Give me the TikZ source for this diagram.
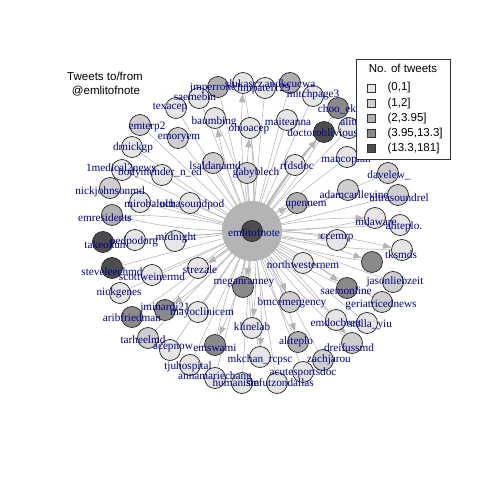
\documentclass[tikz,border=0pt]{standalone}
\usepackage{fontspec}
\setmainfont{Liberation Serif}
\newfontfamily\legendfont{Liberation Sans}
\usetikzlibrary{arrows.meta, positioning, backgrounds}

\definecolor{tw1}{HTML}{E6E6E6}
\definecolor{tw2}{HTML}{CECECE}
\definecolor{tw3}{HTML}{B0B0B0}
\definecolor{tw4}{HTML}{8A8A8A}
\definecolor{tw5}{HTML}{4D4D4D}
\definecolor{labelblue}{HTML}{00008B}
\definecolor{edgegray}{HTML}{B4B4B4}

\begin{document}
\begin{tikzpicture}[
    x=0.025cm, y=-0.025cm,
    vtx/.style={circle, draw=black!85, line width=0.5pt, minimum size=0.525cm, inner sep=0pt},
    c1/.style={vtx, fill=tw1},
    c2/.style={vtx, fill=tw2},
    c3/.style={vtx, fill=tw3},
    c4/.style={vtx, fill=tw4},
    c5/.style={vtx, fill=tw5},
    lab/.style={text=labelblue, inner sep=0pt, font=\fontsize{8}{9}\selectfont},
    edge/.style={draw=edgegray, line width=0.4pt, -{Triangle[length=6pt, width=4.5pt, fill=edgegray]}},
    sans/.style={inner sep=0pt, font=\legendfont\fontsize{8.2}{9.5}\selectfont},
    keybox/.style={draw=black!80, line width=0.4pt, minimum size=0.2cm, inner sep=0pt}
]
    \useasboundingbox (0,0) rectangle (480,480);

    % Centre
    \node[c5] (emlitofnote) at (252,231) {};

    % Top arc
    \node[c3] (jmperrone) at (218,87) {};
    \node[c1] (saemebm) at (199,98) {};
    \node[c1] (slukascz) at (243,83) {};
    \node[c3] (andkcucwa) at (290,83) {};
    \node[c1] (hmpatel129) at (265,88) {};
    \node[c1] (mitchpage3) at (313,96) {};
    \node[c4] (chooek) at (338,108) {};
    \node[c1] (alittle) at (349,128) {};
    \node[c1] (texacep) at (176,108) {};
    \node[c2] (emterp2) at (140,125) {};
    \node[c2] (emoryem) at (178,138) {};
    \node[c1] (baumbing) at (215,118) {};
    \node[c1] (ohioacep) at (250,128) {};
    \node[c1] (maiteanna) at (287,120) {};
    \node[c5] (doctoroblivious) at (324,132) {};
    \node[c1] (mancoplan) at (347,157) {};

    % Inner ring, upper half
    \node[c1] (drnickgp) at (132,147) {};
    \node[c1] (medical) at (122,170) {};
    \node[c1] (bodymender) at (162,175) {};
    \node[c2] (lsaldanamd) at (213,163) {};
    \node[c2] (gabyblech) at (247,173) {};
    \node[c1] (rfdsdoc) at (295,165) {};
    \node[c2] (adamcarllevine) at (348,190) {};
    \node[c2] (davelew) at (388,173) {};
    \node[c2] (ultrasoundrel) at (398,195) {};
    \node[c2] (nickjohnsonmd) at (110,188) {};
    \node[c1] (mirobaloch) at (140,202) {};
    \node[c1] (ultrasoundpod) at (190,203) {};
    \node[c3] (upennem) at (297,203) {};
    \node[c1] (mdaware) at (375,218) {};
    \node[c1] (alteplodot) at (400,225) {};

    % Left and right sides
    \node[c3] (emresidents) at (112,215) {};
    \node[c5] (takeokun) at (103,242) {};
    \node[c1] (pedpodorg) at (135,240) {};
    \node[c1] (midnight) at (175,241) {};
    \node[c1] (ccemrp) at (337,240) {};
    \node[c1] (tksmds) at (402,250) {};
    \node[c4] (anon) at (372,262) {};
    \node[c5] (steveleechmd) at (112,268) {};
    \node[c1] (scottweinermd) at (152,275) {};
    \node[c1] (strezale) at (198,268) {};
    \node[c1] (northwesternem) at (303,263) {};
    \node[c2] (jasonliebzeit) at (393,282) {};

    % Lower half
    \node[c1] (nickgenes) at (120,293) {};
    \node[c4] (meganranney) at (243,287) {};
    \node[c4] (saemonline) at (347,288) {};
    \node[c2] (geriatricednews) at (382,302) {};
    \node[c2] (bmcemergency) at (290,302) {};
    \node[c4] (jminardi21) at (165,310) {};
    \node[c4] (aribfriedman) at (132,317) {};
    \node[c1] (mayoclinicem) at (198,312) {};
    \node[c1] (emdocbrett) at (336,320) {};
    \node[c1] (stellayiu) at (367,323) {};
    \node[c1] (klinelab) at (252,328) {};
    \node[c2] (tarheelmd) at (148,338) {};
    \node[c3] (aliteplo) at (298,342) {};
    \node[c2] (dreifussmd) at (352,343) {};
    \node[c4] (emswami) at (215,345) {};
    \node[c1] (acepnow) at (170,350) {};
    \node[c1] (mkchan) at (260,357) {};
    \node[c2] (zachjarou) at (323,360) {};
    \node[c1] (tjuhospital) at (190,365) {};
    \node[c1] (acutesportsdoc) at (303,372) {};
    \node[c1] (annamariechang) at (215,378) {};
    \node[c1] (humanist) at (242,383) {};
    \node[c1] (stefutz) at (277,383) {};

    % Edges
    \begin{scope}[on background layer]
        \fill[edgegray] (emlitofnote) circle (30);
        \draw[edge] (jmperrone) -- (emlitofnote);
        \draw[edge] (saemebm) -- (emlitofnote);
        \draw[edge] (slukascz) to[bend left=6] (emlitofnote);
        \draw[edge] (emlitofnote) to[bend left=6] (slukascz);
        \draw[edge] (andkcucwa) -- (emlitofnote);
        \draw[edge] (hmpatel129) -- (emlitofnote);
        \draw[edge] (mitchpage3) -- (emlitofnote);
        \draw[edge] (chooek) -- (emlitofnote);
        \draw[edge] (alittle) -- (emlitofnote);
        \draw[edge] (texacep) -- (emlitofnote);
        \draw[edge] (emterp2) -- (emlitofnote);
        \draw[edge] (emoryem) -- (emlitofnote);
        \draw[edge] (baumbing) to[bend left=6] (emlitofnote);
        \draw[edge] (emlitofnote) to[bend left=6] (baumbing);
        \draw[edge] (ohioacep) to[bend left=6] (emlitofnote);
        \draw[edge] (emlitofnote) to[bend left=6] (ohioacep);
        \draw[edge] (maiteanna) -- (emlitofnote);
        \draw[edge] (doctoroblivious) to[bend left=6] (emlitofnote);
        \draw[edge, line width=1.2pt] (emlitofnote) to[bend left=6] (doctoroblivious);
        \draw[edge] (mancoplan) -- (emlitofnote);
        \draw[edge] (drnickgp) -- (emlitofnote);
        \draw[edge] (medical) -- (emlitofnote);
        \draw[edge] (bodymender) -- (emlitofnote);
        \draw[edge] (lsaldanamd) -- (emlitofnote);
        \draw[edge] (gabyblech) -- (emlitofnote);
        \draw[edge] (rfdsdoc) -- (emlitofnote);
        \draw[edge] (adamcarllevine) -- (emlitofnote);
        \draw[edge] (davelew) -- (emlitofnote);
        \draw[edge] (ultrasoundrel) -- (emlitofnote);
        \draw[edge] (nickjohnsonmd) -- (emlitofnote);
        \draw[edge] (mirobaloch) -- (emlitofnote);
        \draw[edge] (ultrasoundpod) -- (emlitofnote);
        \draw[edge] (upennem) to[bend left=6] (emlitofnote);
        \draw[edge] (emlitofnote) to[bend left=6] (upennem);
        \draw[edge] (mdaware) to[bend left=6] (emlitofnote);
        \draw[edge] (emlitofnote) to[bend left=6] (mdaware);
        \draw[edge] (alteplodot) -- (emlitofnote);
        \draw[edge] (emresidents) to[bend left=6] (emlitofnote);
        \draw[edge] (emlitofnote) to[bend left=6] (emresidents);
        \draw[edge] (takeokun) -- (emlitofnote);
        \draw[edge] (pedpodorg) -- (emlitofnote);
        \draw[edge] (midnight) -- (emlitofnote);
        \draw[edge] (ccemrp) to[bend left=6] (emlitofnote);
        \draw[edge] (emlitofnote) to[bend left=6] (ccemrp);
        \draw[edge] (tksmds) to[bend left=6] (emlitofnote);
        \draw[edge] (emlitofnote) to[bend left=6] (tksmds);
        \draw[edge] (anon) to[bend left=6] (emlitofnote);
        \draw[edge] (emlitofnote) to[bend left=6] (anon);
        \draw[edge] (steveleechmd) -- (emlitofnote);
        \draw[edge] (scottweinermd) -- (emlitofnote);
        \draw[edge] (strezale) to[bend left=6] (emlitofnote);
        \draw[edge] (emlitofnote) to[bend left=6] (strezale);
        \draw[edge] (northwesternem) -- (emlitofnote);
        \draw[edge] (jasonliebzeit) -- (emlitofnote);
        \draw[edge] (nickgenes) -- (emlitofnote);
        \draw[edge] (meganranney) to[bend left=6] (emlitofnote);
        \draw[edge] (emlitofnote) to[bend left=6] (meganranney);
        \draw[edge] (saemonline) to[bend left=6] (emlitofnote);
        \draw[edge] (emlitofnote) to[bend left=6] (saemonline);
        \draw[edge] (geriatricednews) -- (emlitofnote);
        \draw[edge] (bmcemergency) to[bend left=6] (emlitofnote);
        \draw[edge] (emlitofnote) to[bend left=6] (bmcemergency);
        \draw[edge] (jminardi21) to[bend left=6] (emlitofnote);
        \draw[edge] (emlitofnote) to[bend left=6] (jminardi21);
        \draw[edge] (aribfriedman) -- (emlitofnote);
        \draw[edge] (mayoclinicem) -- (emlitofnote);
        \draw[edge] (emdocbrett) -- (emlitofnote);
        \draw[edge] (stellayiu) -- (emlitofnote);
        \draw[edge] (klinelab) to[bend left=6] (emlitofnote);
        \draw[edge] (emlitofnote) to[bend left=6] (klinelab);
        \draw[edge] (tarheelmd) -- (emlitofnote);
        \draw[edge] (aliteplo) to[bend left=6] (emlitofnote);
        \draw[edge] (emlitofnote) to[bend left=6] (aliteplo);
        \draw[edge] (dreifussmd) to[bend left=6] (emlitofnote);
        \draw[edge] (emlitofnote) to[bend left=6] (dreifussmd);
        \draw[edge] (emswami) to[bend left=6] (emlitofnote);
        \draw[edge] (emlitofnote) to[bend left=6] (emswami);
        \draw[edge] (acepnow) -- (emlitofnote);
        \draw[edge] (mkchan) to[bend left=6] (emlitofnote);
        \draw[edge] (emlitofnote) to[bend left=6] (mkchan);
        \draw[edge] (zachjarou) -- (emlitofnote);
        \draw[edge] (tjuhospital) -- (emlitofnote);
        \draw[edge] (acutesportsdoc) -- (emlitofnote);
        \draw[edge] (annamariechang) -- (emlitofnote);
        \draw[edge] (humanist) -- (emlitofnote);
        \draw[edge] (stefutz) -- (emlitofnote);
    \end{scope}

    % Labels
    \node[lab] (emlitofnote-l) at (254,233) {emlitofnote};
    \node[lab] (jmperrone-l) at (213,88) {jmperrone};
    \node[lab] (saemebm-l) at (195,97) {saemebm};
    \node[lab] (slukascz-l) at (244,84) {slukascz};
    \node[lab] (andkcucwa-l) at (290,84) {andkcucwa};
    \node[lab] (hmpatel129-l) at (264,89) {hmpatel129};
    \node[lab] (mitchpage3-l) at (313,95) {mitchpage3};
    \node[lab] (chooek-l) at (337,109) {choo\_ek};
    \node[lab, anchor=west] (alittle-l) at (340,122) {alittle};
    \node[lab] (texacep-l) at (170,108) {texacep};
    \node[lab] (emterp2-l) at (147,127) {emterp2};
    \node[lab] (emoryem-l) at (179,138) {emoryem};
    \node[lab] (baumbing-l) at (214,122) {baumbing};
    \node[lab] (ohioacep-l) at (249,129) {ohioacep};
    \node[lab] (maiteanna-l) at (288,122) {maiteanna};
    \node[lab, anchor=west] (doctoroblivious-l) at (287,133) {doctoroblivious};
    \node[lab] (mancoplan-l) at (346,160) {mancoplan};
    \node[lab] (drnickgp-l) at (133,148) {drnickgp};
    \node[lab] (medical-l) at (121,168) {1medical2news};
    \node[lab] (bodymender-l) at (160,173) {bodymender\_n\_ed};
    \node[lab] (lsaldanamd-l) at (215,166) {lsaldanamd};
    \node[lab] (gabyblech-l) at (256,173) {gabyblech};
    \node[lab] (rfdsdoc-l) at (297,166) {rfdsdoc};
    \node[lab] (adamcarllevine-l) at (354,195) {adamcarllevine};
    \node[lab] (davelew-l) at (389,175) {davelew\_};
    \node[lab] (ultrasoundrel-l) at (399,198) {ultrasoundrel};
    \node[lab] (nickjohnsonmd-l) at (110,192) {nickjohnsonmd};
    \node[lab] (mirobaloch-l) at (150,204) {mirobaloch};
    \node[lab] (ultrasoundpod-l) at (192,205) {ultrasoundpod};
    \node[lab] (upennem-l) at (306,205) {upennem};
    \node[lab] (mdaware-l) at (376,222) {mdaware};
    \node[lab] (alteplodot-l) at (404,227) {aliteplo.};
    \node[lab] (emresidents-l) at (105,218) {emresidents};
    \node[lab] (takeokun-l) at (105,245) {takeokun};
    \node[lab] (pedpodorg-l) at (134,242) {pedpodorg};
    \node[lab] (midnight-l) at (176,238) {midnight};
    \node[lab] (ccemrp-l) at (337,238) {ccemrp};
    \node[lab] (tksmds-l) at (401,255) {tksmds};
    \node[lab] (steveleechmd-l) at (112,272) {steveleechmd};
    \node[lab] (scottweinermd-l) at (152,277) {scottweinermd};
    \node[lab] (strezale-l) at (200,270) {strezale};
    \node[lab] (northwesternem-l) at (303,265) {northwesternem};
    \node[lab] (jasonliebzeit-l) at (395,282) {jasonliebzeit};
    \node[lab] (nickgenes-l) at (119,293) {nickgenes};
    \node[lab] (meganranney-l) at (244,283) {meganranney};
    \node[lab] (saemonline-l) at (346,291) {saemonline};
    \node[lab] (geriatricednews-l) at (381,305) {geriatricednews};
    \node[lab] (bmcemergency-l) at (292,303) {bmcemergency};
    \node[lab] (jminardi21-l) at (165,308) {jminardi21};
    \node[lab] (aribfriedman-l) at (132,318) {aribfriedman};
    \node[lab] (mayoclinicem-l) at (202,313) {mayoclinicem};
    \node[lab] (emdocbrett-l) at (336,323) {emdocbrett};
    \node[lab] (stellayiu-l) at (370,325) {stella\_yiu};
    \node[lab] (klinelab-l) at (252,327) {klinelab};
    \node[lab] (tarheelmd-l) at (143,340) {tarheelmd};
    \node[lab] (aliteplo-l) at (296,342) {aliteplo};
    \node[lab] (dreifussmd-l) at (349,348) {dreifussmd};
    \node[lab] (emswami-l) at (215,348) {emswami};
    \node[lab] (acepnow-l) at (173,348) {acepnow};
    \node[lab] (mkchan-l) at (260,360) {mkchan\_rcpsc};
    \node[lab] (zachjarou-l) at (329,360) {zachjarou};
    \node[lab] (tjuhospital-l) at (188,367) {tjuhospital};
    \node[lab] (acutesportsdoc-l) at (303,373) {acutesportsdoc};
    \node[lab] (annamariechang-l) at (215,377) {annamariechang};
    \node[lab] (humanist-l) at (236,383) {humanism};
    \node[lab] (stefutz-l) at (280,383) {stefutzondallas};

    % Title
    \node[sans] (title1) at (105,76) {Tweets to/from};
    \node[sans] (title2) at (106,91) {@emlitofnote};

    % Legend
    \node[draw=black!80, fill=white, line width=0.4pt, minimum width=2.35cm, minimum height=2.5cm, inner sep=0pt] (legend) at (403,109) {};
    \node[sans] (legend-t) at (403,68) {No. of tweets};
    \node[keybox, fill=tw1] (k1) at (371,88) {};
    \node[keybox, fill=tw2, below=0.163cm of k1] (k2) {};
    \node[keybox, fill=tw3, below=0.163cm of k2] (k3) {};
    \node[keybox, fill=tw4, below=0.163cm of k3] (k4) {};
    \node[keybox, fill=tw5, below=0.163cm of k4] (k5) {};
    \node[sans, right=0.3cm of k1] (k1-l) {(0,1]};
    \node[sans, right=0.3cm of k2] (k2-l) {(1,2]};
    \node[sans, right=0.3cm of k3] (k3-l) {(2,3.95]};
    \node[sans, right=0.3cm of k4] (k4-l) {(3.95,13.3]};
    \node[sans, right=0.3cm of k5] (k5-l) {(13.3,181]};
\end{tikzpicture}
\end{document}
